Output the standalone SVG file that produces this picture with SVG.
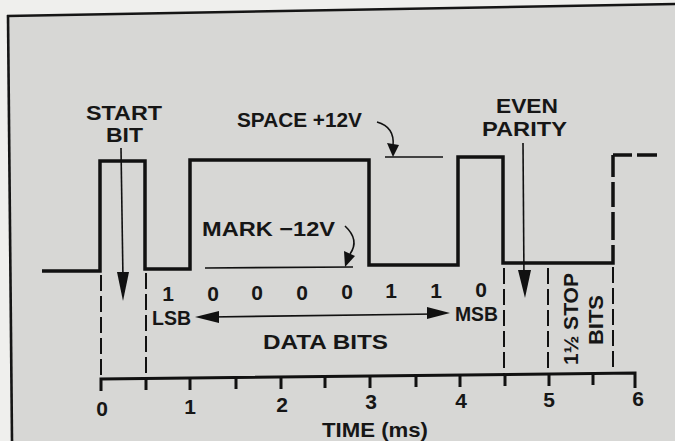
<svg xmlns="http://www.w3.org/2000/svg" width="675" height="441" viewBox="0 0 675 441">
  <style>
    text { font-family: "Liberation Sans", Arial, sans-serif; font-weight: bold; fill: #161616; }
    .lbl { font-size: 21px; }
    .big { font-size: 19.5px; }
    .wave { fill: none; stroke: #111; stroke-width: 3.5; stroke-linejoin: miter; stroke-linecap: butt; }
    .thin { fill: none; stroke: #111; stroke-width: 1.6; }
    .dash { fill: none; stroke: #111; stroke-width: 2; stroke-dasharray: 16 5; }
    .axis { fill: none; stroke: #111; stroke-width: 3; }
    .head { fill: #111; stroke: none; }
  </style>

  <!-- page and frame -->
  <rect x="0" y="0" width="675" height="441" fill="#efefed"/>
  <polygon points="8,16 675,4 675,441 12,441" fill="#d7d7d5"/>
  <g id="frame" fill="none" stroke="#151515" stroke-width="2.6">
    <line x1="7" y1="16" x2="675" y2="4"/>
    <line x1="8" y1="15" x2="12" y2="441"/>
  </g>

  <!-- waveform -->
  <g id="waveform">
    <path class="wave" d="M42,271 L100,271 L100,161 L145,161 L145,269 L190,269 L190,160 L369,160 L369,265 L458,265 L458,157 L503,157 L503,263 L613,263 L613,245"/>
    <path class="wave" d="M613,245 L613,155 L657,155" stroke-dasharray="0 5 28 5 25 5 22 0 19 5 20 10"/>
  </g>

  <!-- level reference lines -->
  <g id="levels">
    <line class="thin" x1="385" y1="157" x2="443" y2="157"/>
    <line class="thin" x1="205" y1="268" x2="353" y2="267"/>
  </g>

  <!-- bit boundary dashed lines -->
  <g id="boundaries">
    <line class="dash" x1="101" y1="275" x2="101" y2="378"/>
    <line class="dash" x1="146" y1="273" x2="146" y2="378"/>
    <line class="dash" x1="504" y1="268" x2="504" y2="374"/>
    <line class="dash" x1="548" y1="268" x2="548" y2="374"/>
    <line class="dash" x1="613" y1="267" x2="613" y2="373"/>
  </g>

  <!-- time axis -->
  <g id="axis">
    <path class="axis" d="M101,391 L101,379 L635,373 L635,388"/>
    <g class="axis">
      <line x1="146" y1="378" x2="146" y2="390"/>
      <line x1="190" y1="378" x2="190" y2="390"/>
      <line x1="236" y1="377" x2="236" y2="389"/>
      <line x1="281" y1="377" x2="281" y2="389"/>
      <line x1="325" y1="376" x2="325" y2="388"/>
      <line x1="370" y1="376" x2="370" y2="388"/>
      <line x1="416" y1="375" x2="416" y2="387"/>
      <line x1="460" y1="375" x2="460" y2="387"/>
      <line x1="505" y1="374" x2="505" y2="386"/>
      <line x1="549" y1="374" x2="549" y2="386"/>
      <line x1="593" y1="373" x2="593" y2="385"/>
    </g>
    <g class="lbl" text-anchor="middle">
      <text x="102" y="416">0</text>
      <text x="190" y="414">1</text>
      <text x="282" y="412">2</text>
      <text x="371" y="409">3</text>
      <text x="461" y="408">4</text>
      <text x="549" y="407">5</text>
      <text x="638" y="406">6</text>
    </g>
    <text class="lbl" x="322" y="437" textLength="106" lengthAdjust="spacingAndGlyphs">TIME (ms)</text>
  </g>

  <!-- connectors / arrows -->
  <g id="connectors">
    <line class="thin" x1="121" y1="148" x2="123" y2="280"/>
    <polygon class="head" points="117,272 129,272 123,301"/>
    <line class="thin" x1="523" y1="143" x2="524" y2="280"/>
    <polygon class="head" points="518,270 531,270 525,298"/>
    <line class="thin" x1="210" y1="317" x2="435" y2="314"/>
    <polygon class="head" points="195,317 219,311 219,323"/>
    <polygon class="head" points="450,313 427,307 427,319"/>
    <path class="thin" d="M377,122 Q395,127 393,146"/>
    <polygon class="head" points="393,157 387,143 399,145"/>
    <path class="thin" d="M345,226 Q360,240 350,254"/>
    <polygon class="head" points="345,267 344,251 355,256"/>
  </g>

  <!-- labels -->
  <g id="start-bit" class="big">
    <text x="86" y="120" textLength="76" lengthAdjust="spacingAndGlyphs">START</text>
    <text x="106" y="142" textLength="37" lengthAdjust="spacingAndGlyphs">BIT</text>
  </g>
  <g id="space-label">
    <text class="lbl" x="237" y="127" textLength="125" lengthAdjust="spacingAndGlyphs">SPACE +12V</text>
  </g>
  <g id="mark-label">
    <text class="lbl" x="202" y="236" textLength="133" lengthAdjust="spacingAndGlyphs">MARK −12V</text>
  </g>
  <g id="even-parity" class="big">
    <text x="496" y="113" textLength="62" lengthAdjust="spacingAndGlyphs">EVEN</text>
    <text x="482" y="136" textLength="85" lengthAdjust="spacingAndGlyphs">PARITY</text>
  </g>
  <g id="data-bits" class="lbl" text-anchor="middle">
    <text x="168" y="301">1</text>
    <text x="213" y="301">0</text>
    <text x="257" y="300">0</text>
    <text x="302" y="300">0</text>
    <text x="347" y="299">0</text>
    <text x="391" y="298">1</text>
    <text x="436" y="298">1</text>
    <text x="481" y="297">0</text>
  </g>
  <g id="lsb-msb" class="lbl">
    <text x="152" y="325" textLength="39" lengthAdjust="spacingAndGlyphs">LSB</text>
    <text x="455" y="321" textLength="43" lengthAdjust="spacingAndGlyphs">MSB</text>
    <text x="263" y="349" textLength="125" lengthAdjust="spacingAndGlyphs">DATA BITS</text>
  </g>
  <g id="stop-bits" class="lbl">
    <text transform="translate(578,365) rotate(-90)" textLength="92" lengthAdjust="spacingAndGlyphs">1½ STOP</text>
    <text transform="translate(603,345) rotate(-90)" textLength="50" lengthAdjust="spacingAndGlyphs">BITS</text>
  </g>
</svg>
